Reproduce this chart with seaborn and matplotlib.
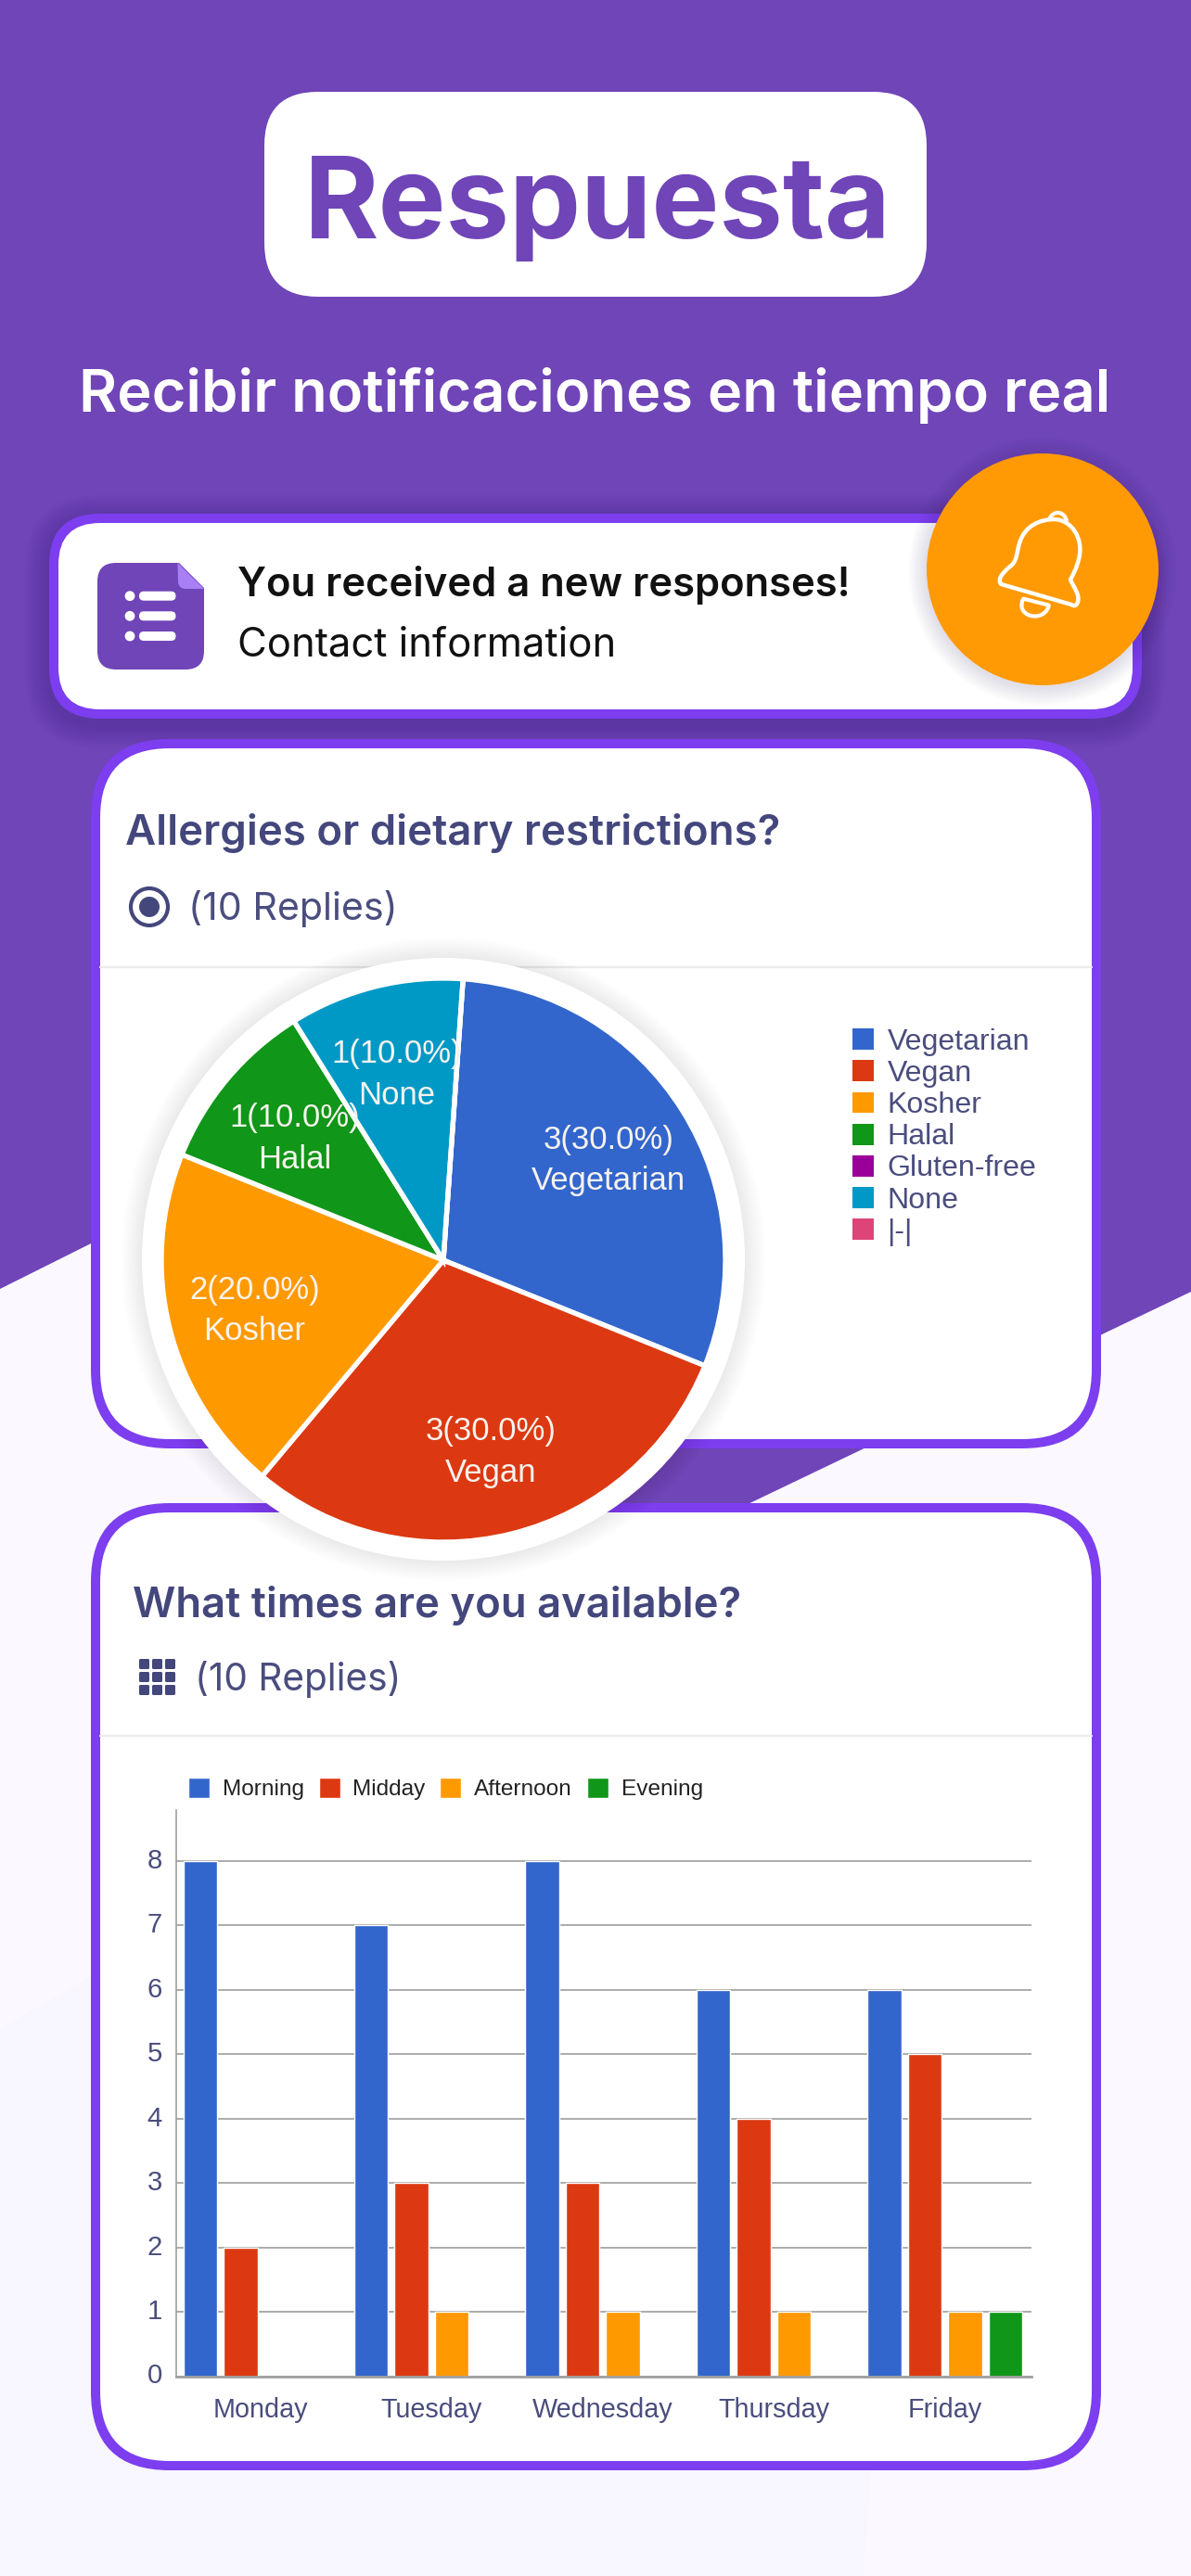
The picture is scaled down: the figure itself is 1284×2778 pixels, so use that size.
import numpy as np
import pandas as pd
import seaborn as sns
import matplotlib
matplotlib.use("Agg")
import matplotlib.pyplot as plt
from matplotlib.patches import FancyBboxPatch, Circle, Polygon, Patch, PathPatch
from matplotlib.path import Path
from matplotlib.transforms import Affine2D
from matplotlib.textpath import TextPath
from matplotlib.font_manager import FontProperties

# ---- data ----
diet_names = ["Vegetarian", "Vegan", "Kosher", "Halal", "Gluten-free", "None", "|-|"]
diet_values = [3, 3, 2, 1, 0, 1, 0]
diet_colors = ["#3366CC", "#DC3912", "#FF9900", "#109618", "#990099", "#0099C6", "#DD4477"]

days = ["Monday", "Tuesday", "Wednesday", "Thursday", "Friday"]
morning = [8, 7, 8, 6, 6]
midday = [2, 3, 3, 4, 5]
afternoon = [0, 1, 1, 1, 1]
evening = [0, 0, 0, 0, 1]
slot_names = ["Morning", "Midday", "Afternoon", "Evening"]
slot_colors = ["#3366CC", "#DC3912", "#FF9900", "#109618"]

# ---- page ----
W, H = 1284, 2778
DPI = 100
PURPLE = "#6F45B8"
BORDER = "#7C3EEE"
LIGHT = "#FBF9FF"
BLOB = "#F8F6FE"
INK = "#44477C"
SOFT = "#4A4D7E"
CHART_FONT = "Liberation Sans"

sns.set_theme(style="white")
plt.rcParams["font.family"] = [CHART_FONT, "DejaVu Sans"]

fig = plt.figure(figsize=(W / DPI, H / DPI), dpi=DPI, facecolor=LIGHT)
bg = fig.add_axes([0, 0, 1, 1], zorder=0)
bg.set_xlim(0, W)
bg.set_ylim(H, 0)
bg.axis("off")


def fit(text, width, family="Inter", weight="normal"):
    fp = FontProperties(family=family, weight=weight)
    w = TextPath((0, 0), text, size=1, prop=fp).get_extents().width
    return width * 72 / (DPI * w)


def put(x, y, text, width, color, family="Inter", weight="normal", ax=bg, z=20, ha="left"):
    ax.text(x, y, text, fontsize=fit(text, width, family, weight), color=color,
            family=family, weight=weight, ha=ha, va="baseline", zorder=z)


def rrect(x0, y0, x1, y1, r, color, z, alpha=1):
    bg.add_patch(FancyBboxPatch((x0, y0), x1 - x0, y1 - y0,
                                boxstyle=f"round,pad=0,rounding_size={r}",
                                fc=color, ec="none", lw=0, alpha=alpha, zorder=z))


def pixel_axes(x0, y0, x1, y1, z=5):
    return fig.add_axes([x0 / W, 1 - y1 / H, (x1 - x0) / W, (y1 - y0) / H], zorder=z)


def card(x0, y0, x1, y1, r, b, z):
    rrect(x0, y0, x1, y1, r, BORDER, z)
    rrect(x0 + b, y0 + b, x1 - b, y1 - b, r - b, "white", z + 0.1)


# faint lower backdrop and purple backdrop
bg.add_patch(Polygon([(0, 2188), (110, 2125), (940, 2500), (939, 2664), (930, H), (0, H)],
                     fc=BLOB, ec="none", zorder=0.5))
bg.add_patch(Polygon([(0, 0), (W, 0), (W, 1393), (700, 1673), (420, 1640), (210, 1285), (0, 1390)],
                     fc=PURPLE, ec="none", zorder=1))

# header
rrect(285, 99, 999, 320, 58, "white", 2)
put(328, 257, "Respuesta", 617, PURPLE, weight="bold")
put(85, 444, "Recibir notificaciones en tiempo real", 1104, "white", weight="semibold")

# notification card
for i in range(10):
    g = 26 - i * 2.6
    rrect(53 - g, 554 - g + 6, 1231 + g, 775 + g + 6, 55 + g, "#2A1460", 2, alpha=0.025)
card(53, 554, 1231, 775, 55, 10, 3)
rrect(105, 607, 220, 722, 20, PURPLE, 4)
bg.add_patch(Polygon([(191, 605), (222, 605), (222, 636)], fc="white", ec="none", zorder=4.1))
fold = Path([(191.5, 607), (220, 635), (200, 635), (193, 635), (192, 628), (191.5, 607)],
            [Path.MOVETO, Path.LINETO, Path.LINETO, Path.CURVE3, Path.CURVE3, Path.CLOSEPOLY])
bg.add_patch(PathPatch(fold, fc="#A97FF5", ec="none", zorder=4.2))
for yy in (642.7, 664.3, 686):
    bg.add_patch(Circle((140, yy), 5.4, fc="white", ec="none", zorder=4.3))
    rrect(150, yy - 5, 189.5, yy + 5, 5, "white", 4.3)
put(256, 643, "You received a new responses!", 657, "#111111", weight="semibold")
put(256, 707, "Contact information", 402, "#111111")

for i in range(8):
    bg.add_patch(Circle((1124, 616), 125 + 2 + i * 2.5, fc="#2A1460", ec="none", alpha=0.015, zorder=5.9))
bg.add_patch(Circle((1124, 614), 125, fc="#FF9A05", ec="none", zorder=6))

# bell outline, traced in pixels of a 3x crop anchored at (1040, 530)
bell_tf = Affine2D().scale(1 / 3).translate(1040, 530) + bg.transData
C4 = Path.CURVE4
bell = Path([(118, 300),
             (105, 285), (120, 265), (150, 240),
             (170, 225), (168, 195), (178, 165),
             (195, 110), (245, 90), (290, 90),
             (345, 92), (385, 150), (370, 215),
             (362, 250), (350, 270), (342, 285),
             (352, 310), (375, 335), (365, 360),
             (360, 372), (352, 371), (345, 366),
             (118, 300)],
            [Path.MOVETO] + [C4] * 21 + [Path.CLOSEPOLY])
bg.add_patch(PathPatch(bell, fc="none", ec="white", lw=3.2, transform=bell_tf, zorder=7, joinstyle="round"))
knob = Path([(275, 88), (285, 60), (325, 62), (330, 98)], [Path.MOVETO, C4, C4, C4])
bg.add_patch(PathPatch(knob, fc="none", ec="white", lw=3.0, transform=bell_tf, zorder=7))
clap = Path([(190, 347), (170, 385), (205, 408), (235, 403),
             (255, 400), (270, 385), (272, 368), (190, 347)],
            [Path.MOVETO, C4, C4, C4, C4, C4, C4, Path.CLOSEPOLY])
bg.add_patch(PathPatch(clap, fc="none", ec="white", lw=3.0, transform=bell_tf, zorder=7, joinstyle="round"))

# pie card
card(98, 797, 1187, 1562, 85, 10, 7)
put(135, 911, "Allergies or dietary restrictions?", 702, INK, weight="semibold", z=8)
bg.add_patch(Circle((161, 978), 20, fc="none", ec=INK, lw=3, zorder=8))
bg.add_patch(Circle((161, 978), 11, fc=INK, ec="none", zorder=8))
put(203, 992, "(10 Replies)", 217, SOFT, z=8)
bg.plot([108, 1177], [1043, 1043], color="#EBEBEB", lw=1.6, zorder=8)

# bar card
card(98, 1621, 1187, 2664, 85, 10, 9)
put(143, 1744, "What times are you available?", 653, INK, weight="semibold", z=10)
for row in range(3):
    for col in range(3):
        xx = 150 + col * 14
        yy = 1789 + row * 14
        rrect(xx, yy, xx + 11, yy + 11, 1.5, INK, 10)
put(210, 1823, "(10 Replies)", 214, SOFT, z=10)
bg.plot([108, 1177], [1872, 1872], color="#EBEBEB", lw=1.6, zorder=10)

# pie disc and its shadow
for i in range(10):
    bg.add_patch(Circle((478, 1358), 325 + 22 - i * 2.2, fc="black", ec="none", alpha=0.007, zorder=11))
bg.add_patch(Circle((478, 1358), 325, fc="white", ec="none", zorder=12))

# ---- pie ----
pal = sns.color_palette(diet_colors)
total = sum(diet_values)
labels = [f"{v}({100 * v / total:.1f}%)\n{n}" if v else "" for n, v in zip(diet_names, diet_values)]
pie_ax = pixel_axes(174, 1055, 782, 1663, z=13)
wedges, texts = pie_ax.pie(diet_values, colors=pal, labels=labels, labeldistance=0.69,
                           startangle=86, counterclock=False, radius=1,
                           wedgeprops=dict(edgecolor="white", linewidth=3.8),
                           textprops=dict(color="#F7F3EE", family=CHART_FONT,
                                          fontsize=fit("Vegetarian", 163, CHART_FONT), linespacing=1.45))
for t in texts:
    t.set_ha("center")
    t.set_va("center")
    tx, ty = t.get_position()
    t.set_position((tx, ty - 0.012))
pie_ax.set_xlim(-1, 1)
pie_ax.set_ylim(-1, 1)
handles = [Patch(fc=c, ec="none") for c in pal]
leg_size = fit("Gluten-free", 158, CHART_FONT)
fig.legend(handles, diet_names, loc="upper left", bbox_to_anchor=(919 / W, 1 - 1109 / H),
           bbox_transform=fig.transFigure, frameon=False, fontsize=leg_size,
           labelcolor=SOFT, handlelength=22.5 * 0.72 / leg_size, handleheight=23 * 0.72 / leg_size,
           handletextpad=15 * 0.72 / leg_size, labelspacing=0.128, borderpad=0, borderaxespad=0)

# ---- bars ----
df = pd.DataFrame({"day": days, "Morning": morning, "Midday": midday,
                   "Afternoon": afternoon, "Evening": evening})
long_df = df.melt(id_vars="day", value_vars=slot_names, var_name="slot", value_name="count")
bar_ax = pixel_axes(190, 1952, 1112, 2562.5, z=13)
bar_ax.patch.set_alpha(0)
sns.barplot(data=long_df, x="day", y="count", hue="slot", order=days, hue_order=slot_names,
            palette=slot_colors, saturation=1, width=0.943, gap=0.16, ax=bar_ax)
bar_ax.set_xlim(-0.4935, 4.5065)
bar_ax.set_ylim(0, 8.79)
bar_ax.set_yticks(range(9))
bar_ax.set_xlabel("")
bar_ax.set_ylabel("")
bar_ax.set_axisbelow(True)
bar_ax.grid(axis="y", color="#ABABAB", lw=1.4)
bar_ax.grid(axis="x", visible=False)
sns.despine(ax=bar_ax, top=True, right=True)
for side, lw in (("left", 1.2), ("bottom", 2.0)):
    bar_ax.spines[side].set_color("#A0A0A0")
    bar_ax.spines[side].set_linewidth(lw)
tick_size = fit("Wednesday", 151, CHART_FONT)
bar_ax.tick_params(axis="x", length=0, pad=16, labelsize=tick_size, labelcolor=SOFT)
bar_ax.tick_params(axis="y", length=0, pad=11, labelsize=tick_size * 1.02, labelcolor=SOFT)
for lbl in bar_ax.get_yticklabels():
    lbl.set_transform(lbl.get_transform() + Affine2D().translate(0, 3))
bar_h, bar_l = bar_ax.get_legend_handles_labels()
bar_ax.get_legend().remove()
bar_size = fit("Afternoon", 104, CHART_FONT)
fig.legend(bar_h, bar_l, loc="upper left", ncol=4, bbox_to_anchor=(203 / W, 1 - 1917 / H),
           bbox_transform=fig.transFigure, frameon=False, fontsize=bar_size, labelcolor="#222222",
           handlelength=23 * 0.72 / bar_size, handleheight=24 * 0.72 / bar_size,
           handletextpad=14 * 0.72 / bar_size, columnspacing=15.5 * 0.72 / bar_size,
           borderpad=0, borderaxespad=0)

fig.savefig("out.png", dpi=DPI, facecolor=fig.get_facecolor())
